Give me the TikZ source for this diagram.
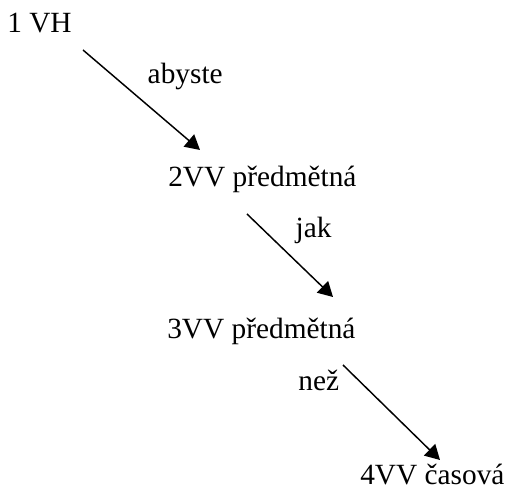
\documentclass[tikz,border=0pt]{standalone}
\usepackage{fontspec}
\setmainfont{Liberation Serif}
\usepackage{tikz}
\usetikzlibrary{arrows.meta}

\begin{document}
\begin{tikzpicture}[
    x=0.75pt, y=-0.75pt,
    clause/.style={inner sep=0pt, anchor=base west, font=\fontsize{22pt}{26pt}\selectfont},
    conj/.style={inner sep=0pt, anchor=base west, font=\fontsize{22pt}{26pt}\selectfont},
    arrow/.style={-{Triangle[length=11pt, width=12pt]}, line width=1.1pt},
]
\useasboundingbox (0,0) rectangle (507,491);

% Clauses
\node[clause] (vh) at (7,33) {1 VH};
\node[clause] (vv2) at ([shift={(161,154)}]vh.base west) {2VV předmětná};
\node[clause] (vv3) at ([shift={(-1,152)}]vv2.base west) {3VV předmětná};
\node[clause] (vv4) at ([shift={(193,145)}]vv3.base west) {4VV časová};

% Arrows with conjunctions
\draw[arrow] ([shift={(76,17)}]vh.base west) -- node[conj, shift={(5.5,-16)}] (c1) {abyste} ([shift={(32,-37)}]vv2.base west);
\draw[arrow] ([shift={(79,27)}]vv2.base west) -- node[conj, shift={(5,-17.5)}] (c2) {jak} ([shift={(166,-42)}]vv3.base west);
\draw[arrow] ([shift={(176,26)}]vv3.base west) -- node[conj, pos=0.25, shift={(-69.5,2)}] (c3) {než} ([shift={(80,-24)}]vv4.base west);

\end{tikzpicture}
\end{document}
